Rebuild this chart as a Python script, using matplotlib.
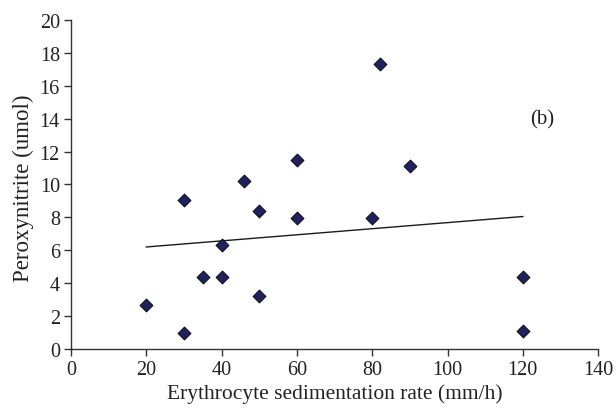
import matplotlib
matplotlib.use("Agg")
import matplotlib.pyplot as plt
import numpy as np

esr = [20, 30, 30, 35, 40, 40, 46, 50, 50, 60, 60, 80, 82, 90, 120, 120]
peroxynitrite = [2.7, 9.05, 1.0, 4.4, 4.4, 6.3, 10.2, 8.4, 3.2, 11.5, 7.95, 7.95, 17.3, 11.1, 4.4, 1.1]
trend_x = [20, 120]
trend_y = [6.2, 8.05]
x_ticks = [0, 20, 40, 60, 80, 100, 120, 140]
y_ticks = [0, 2, 4, 6, 8, 10, 12, 14, 16, 18, 20]

plt.rcParams['font.family'] = ['Liberation Serif', 'DejaVu Serif']

fig = plt.figure(figsize=(6.16, 4.14), dpi=100)
ax = fig.add_axes([0.1153, 0.1546, 0.8557, 0.795])

ax.plot(trend_x, trend_y, color='#1a1a1a', lw=1.0, zorder=2)
ax.scatter(esr, peroxynitrite, marker='D', s=42, facecolor='#1f2168',
           edgecolor='#111111', linewidths=0.8, zorder=3)

ax.set_xlim(0, 140)
ax.set_ylim(0, 20)
ax.set_xticks(x_ticks)
ax.set_yticks(y_ticks)
for s in ['top', 'right']:
    ax.spines[s].set_visible(False)
for s in ['left', 'bottom']:
    ax.spines[s].set_color('#333333')
    ax.spines[s].set_linewidth(1.0)
ax.tick_params(direction='out', length=5, width=1.0, color='#333333',
               labelsize=14.5, labelcolor='#222222', pad=3)
ax.set_xlabel('Erythrocyte sedimentation rate (mm/h)', fontsize=15.5, color='#222222', labelpad=3)
ax.set_ylabel('Peroxynitrite (umol)', fontsize=16.5, color='#222222', labelpad=3)
ax.yaxis.set_label_coords(-0.07, 0.49)
ax.text(125.2, 14.0, '(b)', fontsize=15, ha='center', va='center', color='#222222')

fig.savefig('out.png', dpi=100)
